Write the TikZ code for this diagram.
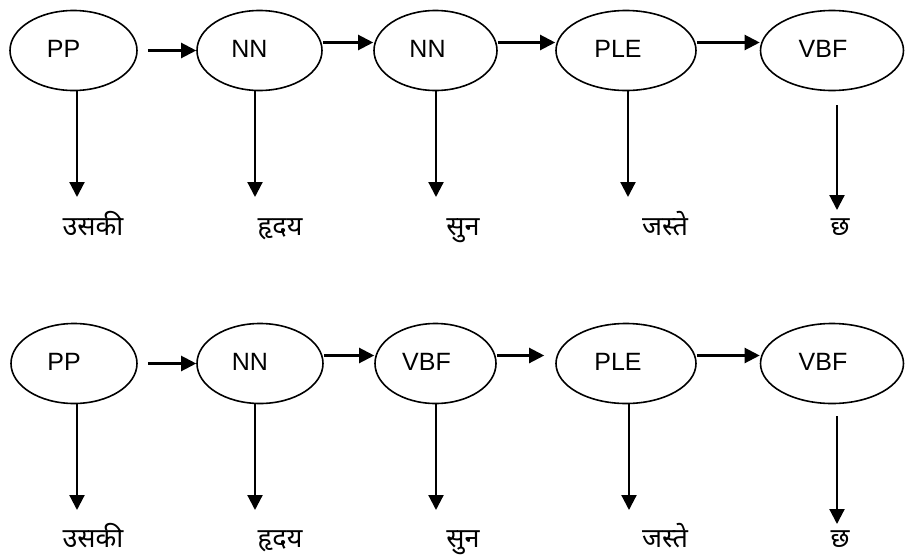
\documentclass[tikz,border=0pt]{standalone}
\usepackage{fontspec}
\setmainfont{Liberation Sans}
\newfontfamily\deva[Script=Devanagari]{Noto Sans}
\usetikzlibrary{shapes.geometric,arrows.meta}
\tikzset{
  tag/.style={ellipse, draw, line width=1.6pt, minimum height=80pt, inner sep=0pt},
  tagtext/.style={inner sep=0pt, yshift=2pt, font=\fontsize{25}{28}\selectfont},
  word/.style={anchor=base, inner sep=0pt, font=\deva\fontsize{27}{30}\selectfont},
  arr/.style={-{Triangle[length=15pt,width=15pt]}, line width=2.2pt}
}
\begin{document}
\begin{tikzpicture}[x=1pt, y=-1pt]
            \useasboundingbox (0,0) rectangle (905,557);
            \node [tag, minimum width=127pt, label={[tagtext, xshift=-10pt]center:PP}] (pp1) at (73.5,50.5) {};
            \node [tag, minimum width=125pt, label={[tagtext, xshift=-10pt]center:NN}] (nn1) at (259.5,50.5) {};
            \node [tag, minimum width=123pt, label={[tagtext, xshift=-8pt]center:NN}] (nn2) at (435.5,50.5) {};
            \node [tag, minimum width=140pt, label={[tagtext, xshift=-8pt]center:PLE}] (ple1) at (626,50.5) {};
            \node [tag, minimum width=143pt, label={[tagtext, xshift=-9pt]center:VBF}] (vbf1) at (832,50.5) {};
            \node [word] (w1) at (93,235) {उसकी};
            \node [word] (w2) at (280,235) {हृदय};
            \node [word] (w3) at (463,235) {सुन};
            \node [word] (w4) at (665,235) {जस्ते};
            \node [word] (w5) at (840,235) {छ};
            \coordinate (t1) at (77,197);
            \coordinate (t2) at (255,197);
            \coordinate (t3) at (436,197);
            \coordinate (t4) at (628,197);
            \coordinate (s5) at (837,105);
            \coordinate (t5) at (837,210);
            \draw [arr, shorten <=10pt] (pp1.east) -- (nn1.west);
            \draw [arr] ([yshift=8pt]nn1.east) -- ([yshift=8pt]nn2.west);
            \draw [arr] ([yshift=8pt]nn2.east) -- ([yshift=8pt]ple1.west);
            \draw [arr] ([yshift=8pt]ple1.east) -- ([yshift=8pt]vbf1.west);
            \draw [arr] (pp1.south -| t1) -- (t1);
            \draw [arr] (nn1.south -| t2) -- (t2);
            \draw [arr] (nn2.south -| t3) -- (t3);
            \draw [arr] (ple1.south -| t4) -- (t4);
            \draw [arr] (s5) -- (t5);
            \node [tag, minimum width=126pt, label={[tagtext, xshift=-10pt]center:PP}] (pp2) at (74,363.5) {};
            \node [tag, minimum width=126pt, label={[tagtext, xshift=-10pt]center:NN}] (nn3) at (260,363.5) {};
            \node [tag, minimum width=121pt, label={[tagtext, xshift=-9pt]center:VBF}] (vbf2) at (435.5,363.5) {};
            \node [tag, minimum width=140pt, label={[tagtext, xshift=-8pt]center:PLE}] (ple2) at (626,363.5) {};
            \node [tag, minimum width=143pt, label={[tagtext, xshift=-9pt]center:VBF}] (vbf3) at (832,363.5) {};
            \node [word] (w6) at (93,547) {उसकी};
            \node [word] (w7) at (280,547) {हृदय};
            \node [word] (w8) at (463,547) {सुन};
            \node [word] (w9) at (665,547) {जस्ते};
            \node [word] (w10) at (840,547) {छ};
            \coordinate (t6) at (77,510);
            \coordinate (t7) at (255,510);
            \coordinate (t8) at (436,510);
            \coordinate (t9) at (629,510);
            \coordinate (s10) at (837,416);
            \coordinate (t10) at (837,524);
            \draw [arr, shorten <=10pt] (pp2.east) -- (nn3.west);
            \draw [arr] ([yshift=8pt]nn3.east) -- ([yshift=8pt]vbf2.west);
            \draw [arr, shorten >=11pt] ([yshift=8pt]vbf2.east) -- ([yshift=8pt]ple2.west);
            \draw [arr] ([yshift=8pt]ple2.east) -- ([yshift=8pt]vbf3.west);
            \draw [arr] (pp2.south -| t6) -- (t6);
            \draw [arr] (nn3.south -| t7) -- (t7);
            \draw [arr] (vbf2.south -| t8) -- (t8);
            \draw [arr] (ple2.south -| t9) -- (t9);
            \draw [arr] (s10) -- (t10);
        \end{tikzpicture}
\end{document}
